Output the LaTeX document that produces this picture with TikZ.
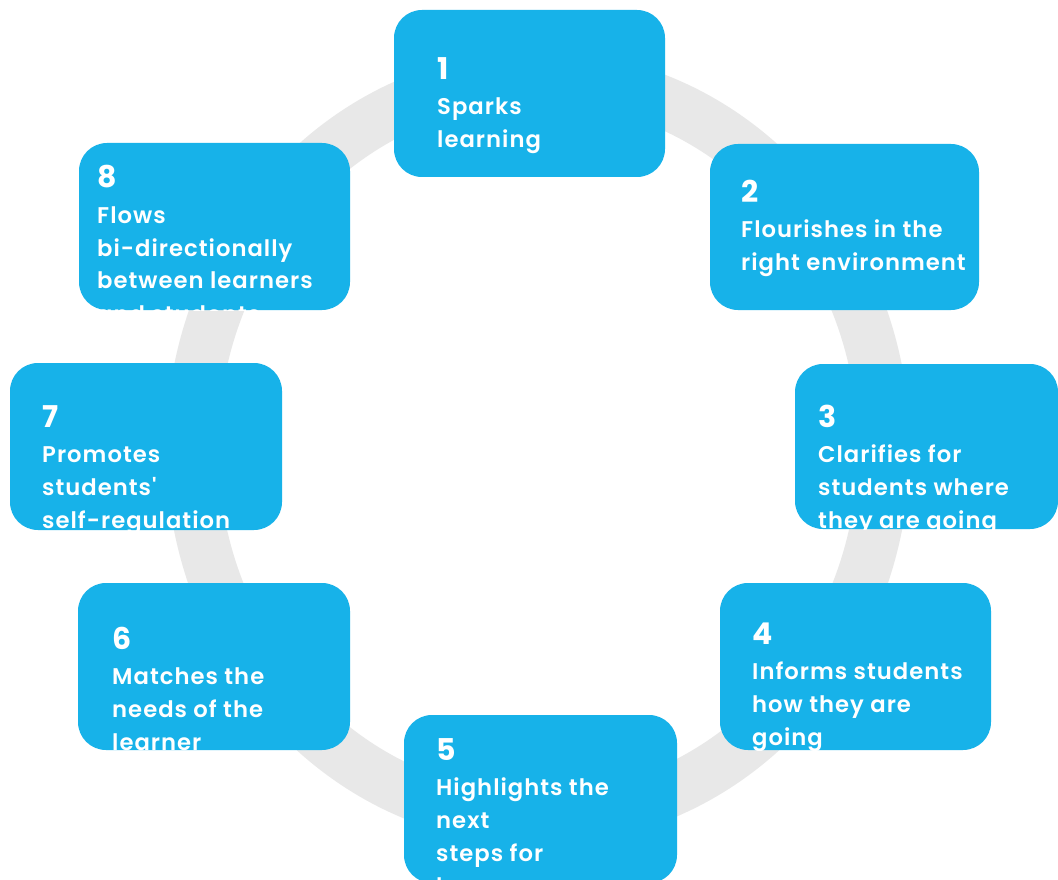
\documentclass[tikz,border=0pt]{standalone}
\usepackage{fontspec}
\setmainfont{Poppins}[UprightFont=* SemiBold, BoldFont=* Bold, Ligatures=TeXOff]
\definecolor{cardblue}{HTML}{17B2E9}
\definecolor{ringgray}{HTML}{E8E8E8}
\tikzset{
  card/.style={fill=cardblue, draw=none, rounded corners=28pt, inner sep=0pt},
  numlabel/.style={text=white, inner sep=0pt, font=\fontsize{30}{34}\selectfont\bfseries},
  bodylabel/.style={text=white, inner sep=0pt},
  ring/.style={draw=ringgray, line width=52pt}
}
% name, left, top, right, bottom, text x, number baseline, number, lines
\newcommand\stepcard[9]{%
  \node[card, minimum width={(#4-#2)*1pt}, minimum height={(#5-#3)*1pt}] (#1) at ({(#2+#4)/2},{(#3+#5)/2}) {};
  \begin{scope}
    \clip[rounded corners=28pt] (#1.south west) rectangle (#1.north east);
    \node[numlabel, anchor=base west] (#1num) at (#6,#7) {#8};
    \node[bodylabel, anchor=base west] (#1txt) at (#6,#7+35) {\parbox[t]{330pt}{\raggedright\fontsize{22.7}{33}\selectfont\addfontfeature{LetterSpace=4.5}#9}};
  \end{scope}
}
\begin{document}
\begin{tikzpicture}[x=1pt, y=-1pt]
  \useasboundingbox[fill=white] (0,0) rectangle (1058,880);
  \node[coordinate] (c) at (538,448) {};
  \draw[ring] (c) ellipse [x radius=346pt, y radius=371pt];
  \stepcard{b1}{394}{10}{665}{177}{437}{80}{1}{Sparks\\learning}
  \stepcard{b2}{710}{144}{979}{310}{741}{202}{2}{Flourishes in the\\right environment}
  \stepcard{b3}{795}{364}{1058}{529}{818}{427}{3}{Clarifies for\\students where\\they are going}
  \stepcard{b4}{720}{583}{991}{750}{752}{644}{4}{Informs students\\how they are\\going}
  \stepcard{b5}{404}{715}{677}{883}{436}{760}{5}{Highlights the\\next\\steps for\\learners}
  \stepcard{b6}{78}{583}{350}{750}{112}{649}{6}{Matches the\\needs of the\\learner}
  \stepcard{b7}{10}{363}{282}{530}{42}{427}{7}{Promotes\\students'\\self-regulation}
  \stepcard{b8}{79}{143}{350}{310}{97}{188}{8}{Flows\\bi-directionally\\between learners\\and students}
\end{tikzpicture}
\end{document}
